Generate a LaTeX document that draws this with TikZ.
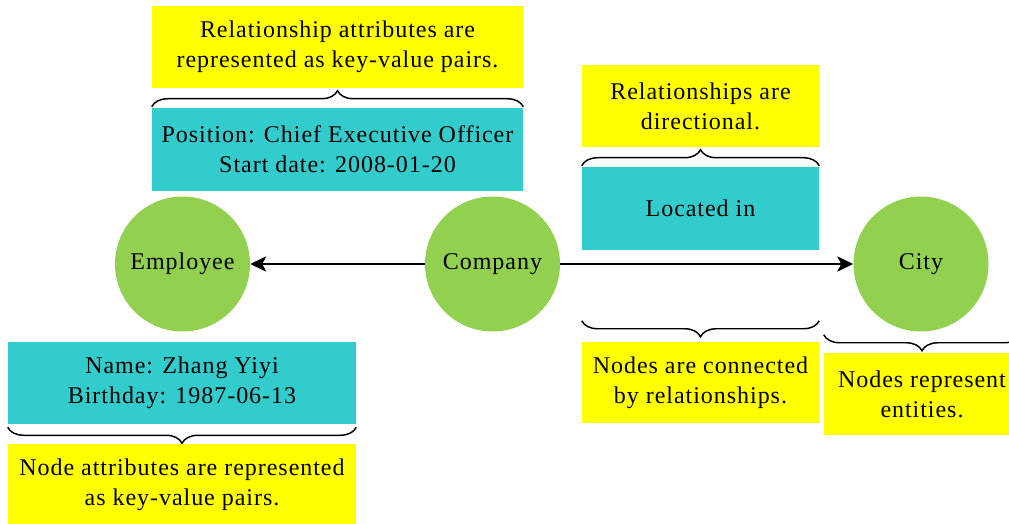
\documentclass[tikz,border=0pt]{standalone}
\usepackage{fontspec}
\setmainfont{Liberation Serif}[LetterSpace=4]
\usetikzlibrary{arrows.meta,decorations.pathreplacing}
\definecolor{noteyellow}{HTML}{FFFF00}
\definecolor{attrteal}{HTML}{33CCCC}
\definecolor{entgreen}{HTML}{92D050}
\newcommand\pxu[1]{#1*0.75pt}
\begin{document}
\begin{tikzpicture}[x=0.75pt,y=-0.75pt,
  every node/.style={font=\fontsize{18}{22.5}\selectfont, align=center, inner sep=0pt},
  note/.style={fill=noteyellow, rectangle},
  attr/.style={fill=attrteal, rectangle},
  entity/.style={fill=entgreen, circle, minimum size=\pxu{135}},
  rel/.style={line width=1.1pt, -{Stealth[length=12pt,width=11.5pt,inset=3pt]}},
  bracket/.style={line width=1.1pt, decorate, decoration={brace, amplitude=\pxu{16}}}]
\useasboundingbox (0,0) rectangle (1009,524);
\clip (0,0) rectangle (1009,524);

% entities
\node[entity] (employee) at (182.5,264) {Employee};
\node[entity] (company)  at (492.5,264) {Company};
\node[entity] (city)     at (921,264)   {City};

% relationships
\draw[rel] (company) -- (employee);
\draw[rel] (company) -- (city);

% relationship attributes
\node[attr, minimum width=\pxu{371}, minimum height=\pxu{83}] (worksfor) at (337.5,149.5)
  {Position: Chief Executive Officer\\Start date: 2008-01-20};
\node[note, minimum width=\pxu{371}, minimum height=\pxu{82}] (noteattr) at (337.5,47)
  {Relationship attributes are\\represented as key-value pairs.};
\draw[bracket] ([yshift=\pxu{1}]worksfor.north west) -- ([yshift=\pxu{1}]worksfor.north east);

% relationship label
\node[attr, minimum width=\pxu{237}, minimum height=\pxu{83}] (located) at (700.5,208.5) {Located in};
\node[note, minimum width=\pxu{237}, minimum height=\pxu{82}] (notedir) at (700.5,106)
  {Relationships are\\directional.};
\draw[bracket] ([yshift=\pxu{1}]located.north west) -- ([yshift=\pxu{1}]located.north east);

% connection note
\node[note, minimum width=\pxu{237}, minimum height=\pxu{81}] (noteconn) at (700.5,382.5)
  {Nodes are connected\\by relationships.};
\draw[bracket] ([yshift=\pxu{21}]noteconn.north east) -- ([yshift=\pxu{21}]noteconn.north west);

% entity note
\node[note, minimum width=\pxu{196}, minimum height=\pxu{82}] (noteent) at (922,394)
  {Nodes represent\\entities.};
\draw[bracket] ([yshift=\pxu{18}]noteent.north east) -- ([yshift=\pxu{18}]noteent.north west);

% node attributes
\node[attr, minimum width=\pxu{348}, minimum height=\pxu{82}] (person) at (182,383)
  {Name: Zhang Yiyi\\Birthday: 1987-06-13};
\node[note, minimum width=\pxu{348}, minimum height=\pxu{82}] (notenode) at (182,485)
  {Node attributes are represented\\as key-value pairs.};
\draw[bracket] ([yshift=\pxu{-3}]person.south east) -- ([yshift=\pxu{-3}]person.south west);
\end{tikzpicture}
\end{document}
